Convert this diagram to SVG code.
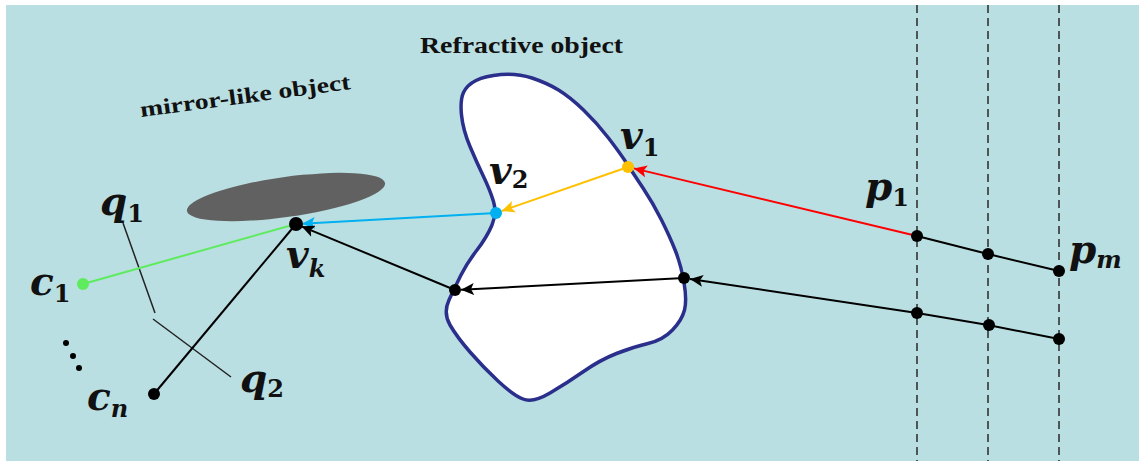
<svg xmlns="http://www.w3.org/2000/svg" width="1139" height="461" viewBox="0 0 1139 461">
<style>
.lbl{font-family:"DejaVu Serif","Liberation Serif",serif;font-weight:bold;font-style:italic;font-size:39px;fill:#111}
.sub{font-size:24px}
.num{font-style:normal}
.cap{font-family:"Liberation Serif","DejaVu Serif",serif;font-weight:bold;fill:#111}
.dash{stroke:#333;stroke-width:1.6;stroke-dasharray:8 5;fill:none}
.ln{fill:none;stroke-width:2}
.dot{fill:#000}
</style>
<defs>
<marker id="ah-black" markerUnits="userSpaceOnUse" markerWidth="14" markerHeight="12" refX="13" refY="6" orient="auto"><path d="M0,0 L13,6 L0,12 L3,6 z" fill="#000"/></marker>
<marker id="ah-red" markerUnits="userSpaceOnUse" markerWidth="14" markerHeight="12" refX="13" refY="6" orient="auto"><path d="M0,0 L13,6 L0,12 L3,6 z" fill="#FF0000"/></marker>
<marker id="ah-orange" markerUnits="userSpaceOnUse" markerWidth="14" markerHeight="12" refX="13" refY="6" orient="auto"><path d="M0,0 L13,6 L0,12 L3,6 z" fill="#FFC000"/></marker>
<marker id="ah-blue" markerUnits="userSpaceOnUse" markerWidth="14" markerHeight="12" refX="13" refY="6" orient="auto"><path d="M0,0 L13,6 L0,12 L3,6 z" fill="#00B0F0"/></marker>
</defs>
<rect x="0" y="0" width="1139" height="461" fill="#fff"/>
<rect id="background" x="6" y="5" width="1133" height="456" fill="#BADFE2"/>

<g id="planes">
<line class="dash" x1="917" y1="5" x2="917" y2="461"/>
<line class="dash" x1="988" y1="5" x2="988" y2="461"/>
<line class="dash" x1="1059" y1="5" x2="1059" y2="461"/>
</g>

<g id="refractive-object">
<path d="M461.5,115 Q460,100 463.5,92.5 Q467,85 476,80.5 Q485,76 501,74.5 Q517,73 532,78 Q547,83 558.5,90 Q570,97 583.5,110 Q597,123 608.5,138 Q620,153 626.5,163 Q633,173 643,188 Q653,203 661.5,220 Q670,237 675.5,251 Q681,265 684,282.5 Q687,300 684.5,310 Q682,320 672.5,330 Q663,340 648,343.5 Q633,347 616.5,353.5 Q600,360 583.5,371.5 Q567,383 550,393 Q533,403 523,399 Q513,395 498,381 Q483,367 470,352 Q457,337 450,325 Q443,313 449,300 Q455,287 461,275 Q467,263 477,250 Q487,237 492,225 Q497,213 493.5,201.5 Q490,190 483.5,176.5 Q477,163 470,146.5 Q463,130 461.5,115 Z" fill="#fff" stroke="#2B2F8C" stroke-width="3.5" stroke-linejoin="round"/>
<text class="cap" x="420" y="53" font-size="23" textLength="203" lengthAdjust="spacingAndGlyphs">Refractive object</text>
</g>

<g id="mirror-object">
<ellipse cx="286" cy="197" rx="100" ry="20" transform="rotate(-8 286 197)" fill="#616161"/>
<text class="cap" x="0" y="0" font-size="22" textLength="212" lengthAdjust="spacingAndGlyphs" transform="translate(141 117) rotate(-7.6)">mirror-like object</text>
</g>

<g id="image-plane">
<line x1="123" y1="223" x2="155" y2="313" stroke="#222" stroke-width="1.5"/>
<line x1="153" y1="319" x2="231" y2="377" stroke="#222" stroke-width="1.5"/>
</g>

<g id="connectors">
<polyline class="ln" points="1059,271 988,254 917,236" stroke="#000"/>
<line class="ln" x1="917" y1="236" x2="633.8" y2="168.4" stroke="#FF0000" marker-end="url(#ah-red)"/>
<line class="ln" x1="628" y1="167" x2="501.7" y2="211" stroke="#FFC000" marker-end="url(#ah-orange)"/>
<line class="ln" x1="496" y1="213" x2="302" y2="223.7" stroke="#00B0F0" marker-end="url(#ah-blue)"/>
<polyline class="ln" points="1059,339 988,325 917,313 690,279" stroke="#000" marker-end="url(#ah-black)"/>
<line class="ln" x1="684" y1="278" x2="461" y2="289.7" stroke="#000" marker-end="url(#ah-black)"/>
<line class="ln" x1="455" y1="290" x2="301.5" y2="226.3" stroke="#000" marker-end="url(#ah-black)"/>
<line class="ln" x1="296" y1="224" x2="83" y2="284" stroke="#5EEB5E"/>
<line class="ln" x1="296" y1="224" x2="154" y2="394" stroke="#000"/>
</g>

<g id="points">
<circle class="dot" cx="917" cy="236" r="6"/>
<circle class="dot" cx="988" cy="254" r="6"/>
<circle class="dot" cx="1059" cy="271" r="6"/>
<circle class="dot" cx="917" cy="313" r="6"/>
<circle class="dot" cx="989" cy="325" r="6"/>
<circle class="dot" cx="1059" cy="339" r="6"/>
<circle class="dot" cx="684" cy="278" r="6"/>
<circle class="dot" cx="455" cy="290" r="6"/>
<circle cx="628" cy="167" r="6" fill="#FFC000"/>
<circle cx="496" cy="213" r="6" fill="#00B0F0"/>
<circle class="dot" cx="296" cy="224" r="7"/>
<circle cx="83" cy="284" r="6" fill="#5EEB5E"/>
<circle class="dot" cx="154" cy="394" r="6"/>
<circle class="dot" cx="66" cy="343" r="3"/>
<circle class="dot" cx="73" cy="356" r="3"/>
<circle class="dot" cx="79" cy="368" r="3"/>
</g>

<g id="labels">
<text class="lbl" x="100" y="215">q<tspan class="sub num" dy="7">1</tspan></text>
<text class="lbl" x="30" y="295">c<tspan class="sub num" dy="7">1</tspan></text>
<text class="lbl" x="87" y="410">c<tspan class="sub" dy="7">n</tspan></text>
<text class="lbl" x="286" y="268">v<tspan class="sub" dy="9">k</tspan></text>
<text class="lbl" x="240" y="392">q<tspan class="sub num" dy="5">2</tspan></text>
<text class="lbl" x="489" y="184">v<tspan class="sub num" dy="4">2</tspan></text>
<text class="lbl" x="620" y="149">v<tspan class="sub num" dy="7">1</tspan></text>
<text class="lbl" x="865" y="200">p<tspan class="sub num" dy="6">1</tspan></text>
<text class="lbl" x="1069" y="263">p<tspan class="sub" dy="5">m</tspan></text>
</g>
</svg>
